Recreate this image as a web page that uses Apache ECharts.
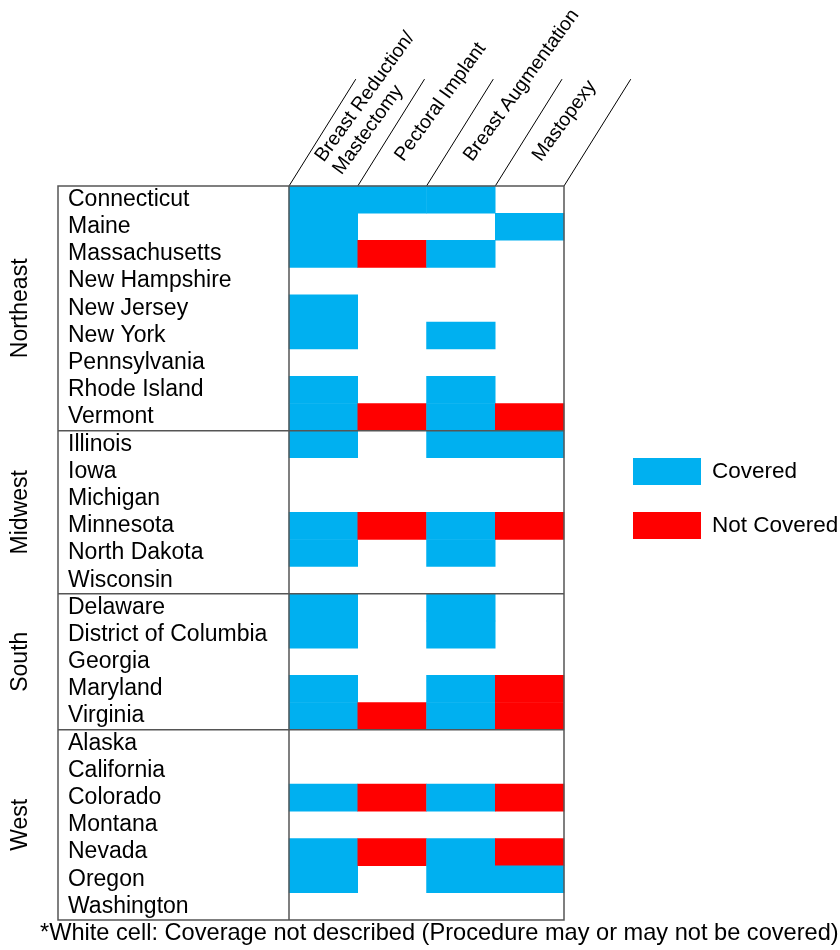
<!DOCTYPE html>
<html><head><meta charset="utf-8">
<script src="https://cdn.jsdelivr.net/npm/echarts@6/dist/echarts.min.js"></script>
<style>html,body{margin:0;padding:0;background:#fff}#c{width:840px;height:950px}</style>
</head><body><div id="c"></div>
<script>
const procedures = ['Breast Reduction/\nMastectomy', 'Pectoral Implant', 'Breast Augmentation', 'Mastopexy'];
const states = ['Connecticut','Maine','Massachusetts','New Hampshire','New Jersey','New York','Pennsylvania','Rhode Island','Vermont',
  'Illinois','Iowa','Michigan','Minnesota','North Dakota','Wisconsin',
  'Delaware','District of Columbia','Georgia','Maryland','Virginia',
  'Alaska','California','Colorado','Montana','Nevada','Oregon','Washington'];
const regionNames = ['Northeast','Midwest','South','West'];
const regionSizes = [9, 6, 5, 7];
// 1 = Covered, 0 = Not Covered, null = not described (white)
const reductionMastectomy = [1,1,1,null,1,1,null,1,1, 1,null,null,1,1,null, 1,1,null,1,1, null,null,1,null,1,1,null];
const pectoralImplant     = [1,null,0,null,null,null,null,null,0, null,null,null,0,null,null, null,null,null,null,0, null,null,0,null,0,null,null];
const augmentation        = [1,null,1,null,null,1,null,1,1, 1,null,null,1,1,null, 1,1,null,1,1, null,null,1,null,1,1,null];
const mastopexy           = [null,1,null,null,null,null,null,null,0, 1,null,null,0,null,null, null,null,null,0,0, null,null,0,null,0,1,null];
const legendLabels = ['Covered', 'Not Covered'];
const footnote = '*White cell: Coverage not described (Procedure may or may not be covered)';

const columns = [reductionMastectomy, pectoralImplant, augmentation, mastopexy];
const cells = [];
columns.forEach((col, xi) => col.forEach((v, yi) => { if (v !== null) cells.push([xi, yi, v]); }));

const FONT = 'Liberation Sans, Arial, Helvetica, sans-serif';
const BLUE = '#00B0F0', RED = '#FF0000', LINE = '#555555';

const chart = echarts.init(document.getElementById('c'));
chart.setOption({
  animation: false,
  backgroundColor: '#fff',
  grid: { left: 289, top: 186, width: 275, height: 734 },
  xAxis: { type: 'category', data: procedures, position: 'top',
    axisLine: { show: false }, axisTick: { show: false }, axisLabel: { show: false }, splitLine: { show: false } },
  yAxis: { type: 'category', data: states, inverse: true,
    axisLine: { show: false }, axisTick: { show: false }, splitLine: { show: false },
    axisLabel: { interval: 0, align: 'left', margin: 221, fontSize: 23, color: '#000', fontFamily: FONT } },
  visualMap: {
    type: 'piecewise', orient: 'vertical', left: 618, top: 443, align: 'left',
    itemWidth: 68, itemHeight: 27, itemGap: 27, textGap: 11, itemSymbol: 'rect',
    pieces: [ { value: 1, label: legendLabels[0], color: BLUE }, { value: 0, label: legendLabels[1], color: RED } ],
    textStyle: { fontSize: 22.5, color: '#000', fontFamily: FONT },
    dimension: 2, seriesIndex: 0, selectedMode: false
  },
  series: [{ type: 'heatmap', data: cells, itemStyle: { borderWidth: 0 }, emphasis: { disabled: true } }]
});

function build() {
  const px = (c) => chart.convertToPixel({ xAxisIndex: 0 }, c);
  const py = (r) => chart.convertToPixel({ yAxisIndex: 0 }, r);
  const xc = procedures.map((_, i) => px(i));
  const bw = xc[1] - xc[0];
  const yc = states.map((_, i) => py(i));
  const bh = yc[1] - yc[0];
  const xB = [xc[0] - bw / 2].concat(xc.map(x => x + bw / 2));
  const top = yc[0] - bh / 2, bottom = yc[yc.length - 1] + bh / 2;
  const boxLeft = 58, right = xB[xB.length - 1];
  const g = [];
  const ls = { stroke: LINE, lineWidth: 1.5 };
  g.push({ type: 'rect', shape: { x: boxLeft, y: top, width: right - boxLeft, height: bottom - top }, style: { fill: 'none', stroke: LINE, lineWidth: 1.5 }, z: 10 });
  g.push({ type: 'line', shape: { x1: xB[0], y1: top, x2: xB[0], y2: bottom }, style: ls, z: 10 });
  let idx = 0;
  regionNames.forEach((name, ri) => {
    const start = idx, end = idx + regionSizes[ri] - 1;
    idx += regionSizes[ri];
    const y0 = yc[start] - bh / 2, y1 = yc[end] + bh / 2;
    if (ri > 0) g.push({ type: 'line', shape: { x1: boxLeft, y1: y0, x2: right, y2: y0 }, style: ls, z: 10 });
    g.push({ type: 'text', x: 21, y: (y0 + y1) / 2, rotation: Math.PI / 2,
      style: { text: name, fontSize: 23, fill: '#000', fontFamily: FONT, align: 'center', verticalAlign: 'middle' } });
  });
  const ang = 58 * Math.PI / 180;
  const len = 126;
  xB.forEach(x => g.push({ type: 'line', shape: { x1: x, y1: top, x2: x + len * Math.cos(ang), y2: top - len * Math.sin(ang) }, style: { stroke: '#000', lineWidth: 1 } }));
  const tAng = 54 * Math.PI / 180;
  procedures.forEach((p, i) => {
    const two = p.indexOf('\n') >= 0;
    g.push({ type: 'text', x: xc[i] + (two ? 5 : 7), y: top - (two ? 20 : 27), rotation: tAng,
      style: { text: p, fontSize: 19.5, lineHeight: 22, fill: '#000', fontFamily: FONT, align: 'left', verticalAlign: 'middle' } });
  });
  g.push({ type: 'text', x: 40, y: 933, style: { text: footnote, fontSize: 23.6, fill: '#000', fontFamily: FONT, align: 'left', verticalAlign: 'middle' } });
  chart.setOption({ graphic: g });
}
build();
</script></body></html>
